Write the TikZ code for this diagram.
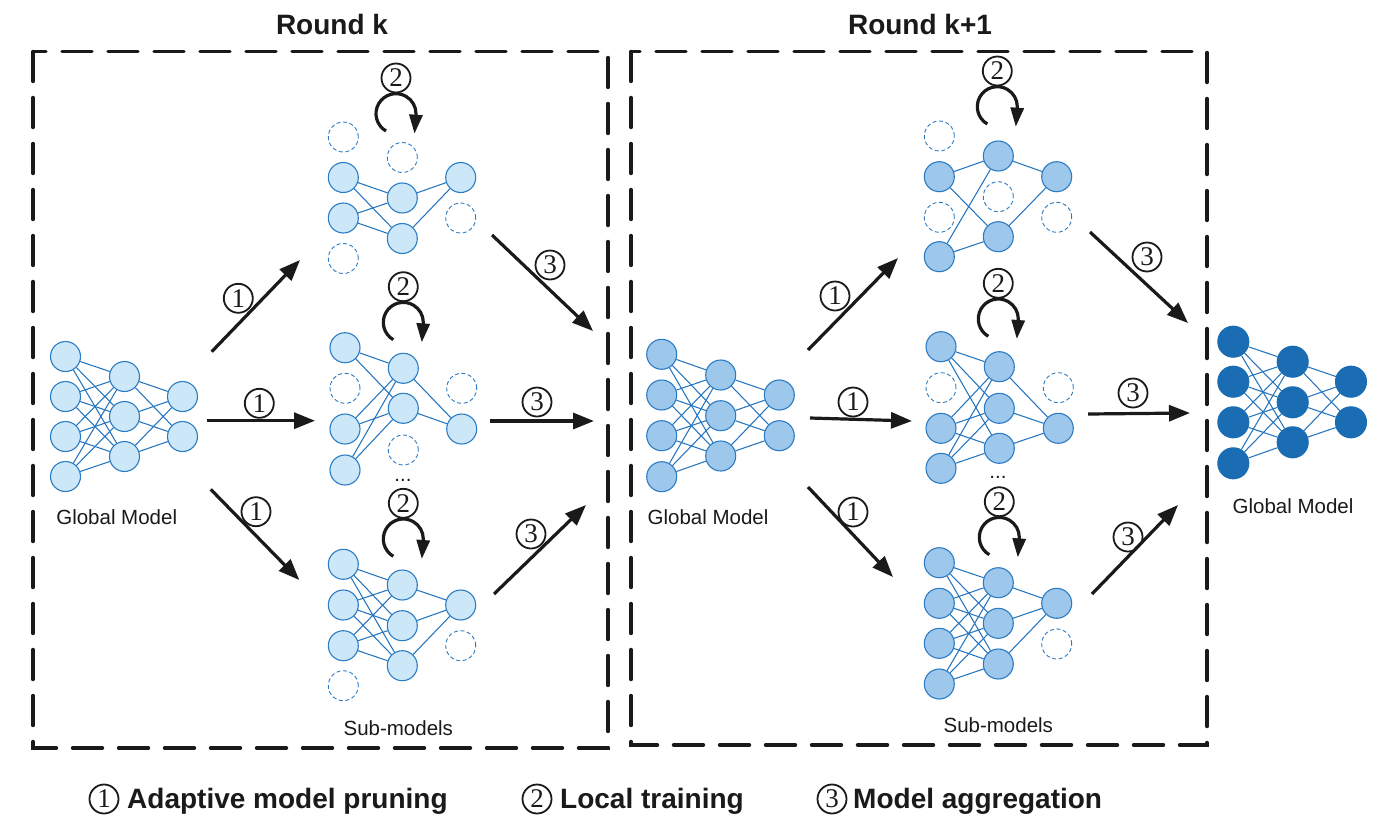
\documentclass[tikz,border=0pt]{standalone}
\usepackage{fontspec}
\setmainfont{Liberation Sans}
\newfontfamily\numfont{Liberation Serif}
\usetikzlibrary{arrows.meta}
\definecolor{lightfill}{HTML}{CCE8F8}
\definecolor{midfill}{HTML}{9DC7EB}
\definecolor{darkfill}{HTML}{1B6DB3}
\definecolor{nstroke}{HTML}{2C7CC4}
\definecolor{edgecol}{HTML}{2474BF}
\definecolor{ink}{HTML}{1A1A1A}
\newcommand\neuron[4]{\node[#1] (#2) at (#3,#4) {};}
\begin{document}
\begin{tikzpicture}[x=1pt,y=-1pt,
 neu/.style={circle,minimum size=30pt,inner sep=0pt,line width=1.1pt},
 lightn/.style={neu,draw=nstroke,fill=lightfill},
 midn/.style={neu,draw=nstroke,fill=midfill},
 darkn/.style={neu,minimum size=31pt,draw=darkfill,fill=darkfill},
 ghostn/.style={neu,draw=nstroke,line width=0.9pt,dash pattern=on 4pt off 2.6pt},
 linkedge/.style={draw=edgecol,line width=1.05pt},
 flowar/.style={draw=ink,line width=3.2pt,-{Triangle[length=21pt,width=16pt]}},
 loopar/.style={draw=ink,line width=3.2pt,-{Triangle[length=19pt,width=13pt]}},
 cnum/.style={circle,draw=ink,line width=1.8pt,inner sep=0pt,minimum size=29pt,text=ink,font=\numfont\fontsize{27}{27}\selectfont},
 framebox/.style={draw=ink,line width=3.4pt,line cap=round,dash pattern=on 30pt off 16pt},
 titletext/.style={inner sep=0pt,text=ink,font=\bfseries\fontsize{28}{28}\selectfont},
 captext/.style={inner sep=0pt,text=ink,font=\fontsize{20.5}{20.5}\selectfont},
]
\useasboundingbox (0,0) rectangle (1373,836);
\fill[white] (0,0) rectangle (1373,836);

% frames
\draw[framebox] (33,51.5) rectangle (608,748);
\draw[framebox] (631,51.5) rectangle (1207,745);
\node[titletext,anchor=base] (rk) at (332,34.5) {Round k};
\node[titletext,anchor=base] (rk1) at (920,34.5) {Round k+1};

% ---------- Global model (round k) ----------
\neuron{lightn}{G1a1}{65.5}{356.5}\neuron{lightn}{G1a2}{65.5}{396.5}
\neuron{lightn}{G1a3}{65.5}{436.5}\neuron{lightn}{G1a4}{65.5}{476.5}
\neuron{lightn}{G1b1}{124.5}{376.5}\neuron{lightn}{G1b2}{124.5}{416.5}\neuron{lightn}{G1b3}{124.5}{456.5}
\neuron{lightn}{G1c1}{182.5}{396.5}\neuron{lightn}{G1c2}{182.5}{436.5}
\foreach \i in {1,...,4} \foreach \j in {1,2,3} \draw[linkedge] (G1a\i) -- (G1b\j);
\foreach \i in {1,2,3} \foreach \j in {1,2} \draw[linkedge] (G1b\i) -- (G1c\j);
\node[captext,anchor=base] (G1l) at (116.7,524) {Global Model};

% ---------- Sub-model 1 ----------
\neuron{ghostn}{S1a1}{343.3}{137}\neuron{lightn}{S1a2}{343.3}{177.5}
\neuron{lightn}{S1a3}{343.3}{218}\neuron{ghostn}{S1a4}{343.3}{258.5}
\neuron{ghostn}{S1b1}{402.3}{157.5}\neuron{lightn}{S1b2}{402.3}{198}\neuron{lightn}{S1b3}{402.3}{238.5}
\neuron{lightn}{S1c1}{460.7}{177.5}\neuron{ghostn}{S1c2}{460.7}{218}
\foreach \i in {2,3} \foreach \j in {2,3} \draw[linkedge] (S1a\i) -- (S1b\j);
\foreach \i in {2,3} \draw[linkedge] (S1b\i) -- (S1c1);

% ---------- Sub-model 2 ----------
\neuron{lightn}{S2a1}{345}{347.7}\neuron{ghostn}{S2a2}{345}{388.3}
\neuron{lightn}{S2a3}{345}{429}\neuron{lightn}{S2a4}{345}{470}
\neuron{lightn}{S2b1}{403.3}{368.3}\neuron{lightn}{S2b2}{403.3}{408.3}\neuron{ghostn}{S2b3}{403.3}{450}
\neuron{ghostn}{S2c1}{461.7}{388.3}\neuron{lightn}{S2c2}{461.7}{429}
\foreach \i in {1,3,4} \foreach \j in {1,2} \draw[linkedge] (S2a\i) -- (S2b\j);
\foreach \i in {1,2} \draw[linkedge] (S2b\i) -- (S2c2);
\node[captext,anchor=base] (d1) at (403,481) {...};

% ---------- Sub-model 3 ----------
\neuron{lightn}{S3a1}{343.3}{564.3}\neuron{lightn}{S3a2}{343.3}{605}
\neuron{lightn}{S3a3}{343.3}{645.7}\neuron{ghostn}{S3a4}{343.3}{685.7}
\neuron{lightn}{S3b1}{402.3}{585}\neuron{lightn}{S3b2}{402.3}{625.7}\neuron{lightn}{S3b3}{402.3}{665.7}
\neuron{lightn}{S3c1}{460.7}{605}\neuron{ghostn}{S3c2}{460.7}{645.7}
\foreach \i in {1,2,3} \foreach \j in {1,2,3} \draw[linkedge] (S3a\i) -- (S3b\j);
\foreach \i in {1,2,3} \draw[linkedge] (S3b\i) -- (S3c1);
\node[captext,anchor=base] (sm1) at (398.3,735) {Sub-models};

% ---------- Global model (round k+1) ----------
\neuron{midn}{G2a1}{661.7}{354.3}\neuron{midn}{G2a2}{661.7}{395}
\neuron{midn}{G2a3}{661.7}{435.7}\neuron{midn}{G2a4}{661.7}{476.7}
\neuron{midn}{G2b1}{720.7}{375}\neuron{midn}{G2b2}{720.7}{415.7}\neuron{midn}{G2b3}{720.7}{456}
\neuron{midn}{G2c1}{779.3}{395}\neuron{midn}{G2c2}{779.3}{435.7}
\foreach \i in {1,...,4} \foreach \j in {1,2,3} \draw[linkedge] (G2a\i) -- (G2b\j);
\foreach \i in {1,2,3} \foreach \j in {1,2} \draw[linkedge] (G2b\i) -- (G2c\j);
\node[captext,anchor=base] (G2l) at (708,524) {Global Model};

% ---------- Sub-model 4 ----------
\neuron{ghostn}{S4a1}{939.3}{136}\neuron{midn}{S4a2}{939.3}{176.7}
\neuron{ghostn}{S4a3}{939.3}{217.3}\neuron{midn}{S4a4}{939.3}{256.7}
\neuron{midn}{S4b1}{998.3}{156}\neuron{ghostn}{S4b2}{998.3}{196.7}\neuron{midn}{S4b3}{998.3}{236.7}
\neuron{midn}{S4c1}{1056.7}{176.7}\neuron{ghostn}{S4c2}{1056.7}{217.3}
\foreach \i in {2,4} \foreach \j in {1,3} \draw[linkedge] (S4a\i) -- (S4b\j);
\foreach \i in {1,3} \draw[linkedge] (S4b\i) -- (S4c1);

% ---------- Sub-model 5 ----------
\neuron{midn}{S5a1}{941}{346.7}\neuron{ghostn}{S5a2}{941}{387.7}
\neuron{midn}{S5a3}{941}{428.3}\neuron{midn}{S5a4}{941}{468.3}
\neuron{midn}{S5b1}{999.3}{366.7}\neuron{midn}{S5b2}{999.3}{408.3}\neuron{midn}{S5b3}{999.3}{448.3}
\neuron{ghostn}{S5c1}{1058.3}{387.7}\neuron{midn}{S5c2}{1058.3}{428.3}
\foreach \i in {1,3,4} \foreach \j in {1,2,3} \draw[linkedge] (S5a\i) -- (S5b\j);
\foreach \i in {1,2,3} \draw[linkedge] (S5b\i) -- (S5c2);
\node[captext,anchor=base] (d2) at (998,478) {...};

% ---------- Sub-model 6 ----------
\neuron{midn}{S6a1}{939.3}{562.7}\neuron{midn}{S6a2}{939.3}{603.3}
\neuron{midn}{S6a3}{939.3}{643.3}\neuron{midn}{S6a4}{939.3}{684}
\neuron{midn}{S6b1}{998.3}{582.7}\neuron{midn}{S6b2}{998.3}{623.3}\neuron{midn}{S6b3}{998.3}{664}
\neuron{midn}{S6c1}{1056.7}{603.3}\neuron{ghostn}{S6c2}{1056.7}{644}
\foreach \i in {1,...,4} \foreach \j in {1,2,3} \draw[linkedge] (S6a\i) -- (S6b\j);
\foreach \i in {1,2,3} \draw[linkedge] (S6b\i) -- (S6c1);
\node[captext,anchor=base] (sm2) at (998.3,732) {Sub-models};

% ---------- Final global model ----------
\neuron{darkn}{G3a1}{1233.3}{341.7}\neuron{darkn}{G3a2}{1233.3}{381.7}
\neuron{darkn}{G3a3}{1233.3}{422.3}\neuron{darkn}{G3a4}{1233.3}{463.3}
\neuron{darkn}{G3b1}{1292.7}{361.7}\neuron{darkn}{G3b2}{1292.7}{402.3}\neuron{darkn}{G3b3}{1292.7}{442.3}
\neuron{darkn}{G3c1}{1351}{381.7}\neuron{darkn}{G3c2}{1351}{422.3}
\foreach \i in {1,...,4} \foreach \j in {1,2,3} \draw[linkedge] (G3a\i) -- (G3b\j);
\foreach \i in {1,2,3} \foreach \j in {1,2} \draw[linkedge] (G3b\i) -- (G3c\j);
\node[captext,anchor=base] (G3l) at (1293,513) {Global Model};

% ---------- Local training loops ----------
\node[cnum] (t1) at (396,78) {2};
\node[cnum] (t2) at (403.3,286.7) {2};
\node[cnum] (t3) at (403.3,503.3) {2};
\node[cnum] (t4) at (997.3,71) {2};
\node[cnum] (t5) at (998.3,283.3) {2};
\node[cnum] (t6) at (999.3,501.7) {2};
\foreach \t in {t1,t2,t3,t4,t5,t6}
  \draw[loopar] ([shift={(-10,53)}]\t.center) arc[start angle=120,end angle=360,radius=20] -- ++(-1.5,20);

% ---------- Flow arrows ----------
\coordinate (p1s) at (211.7,351.7); \coordinate (p1e) at (300,260);
\coordinate (p2s) at (206.7,420.7); \coordinate (p2e) at (315,420.7);
\coordinate (p3s) at (210.7,489.3); \coordinate (p3e) at (299.3,580);
\coordinate (q1s) at (492,235); \coordinate (q1e) at (593,331);
\coordinate (q2s) at (490,421); \coordinate (q2e) at (594,421);
\coordinate (q3s) at (494,594); \coordinate (q3e) at (586,505);
\coordinate (r1s) at (808,350); \coordinate (r1e) at (898,258);
\coordinate (r2s) at (810,418); \coordinate (r2e) at (912,421);
\coordinate (r3s) at (808,487); \coordinate (r3e) at (893,577);
\coordinate (u1s) at (1090,232); \coordinate (u1e) at (1188,323);
\coordinate (u2s) at (1088,414); \coordinate (u2e) at (1190,413);
\coordinate (u3s) at (1092,594); \coordinate (u3e) at (1178,505);
\foreach \a in {p1,p2,p3,q1,q2,q3,r1,r2,r3,u1,u2,u3}
  \draw[flowar] (\a s) -- (\a e);

\node[cnum] (lp1) at (238.3,298.3) {1};
\node[cnum] (lp2) at (259.3,403.3) {1};
\node[cnum] (lp3) at (256,511.7) {1};
\node[cnum] (lq1) at (550,265) {3};
\node[cnum] (lq2) at (537,402) {3};
\node[cnum] (lq3) at (531,534) {3};
\node[cnum] (lr1) at (835,296) {1};
\node[cnum] (lr2) at (853,402) {1};
\node[cnum] (lr3) at (853,512) {1};
\node[cnum] (lu1) at (1147,257) {3};
\node[cnum] (lu2) at (1133,393) {3};
\node[cnum] (lu3) at (1128,537) {3};

% ---------- Legend ----------
\node[cnum] (k1) at (104,799) {1};
\node[titletext,anchor=base west] (k1t) at (127,808) {Adaptive model pruning};
\node[cnum] (k2) at (537,799) {2};
\node[titletext,anchor=base west] (k2t) at (560,808) {Local training};
\node[cnum] (k3) at (832,799) {3};
\node[titletext,anchor=base west] (k3t) at (853,808) {Model aggregation};
\end{tikzpicture}
\end{document}
